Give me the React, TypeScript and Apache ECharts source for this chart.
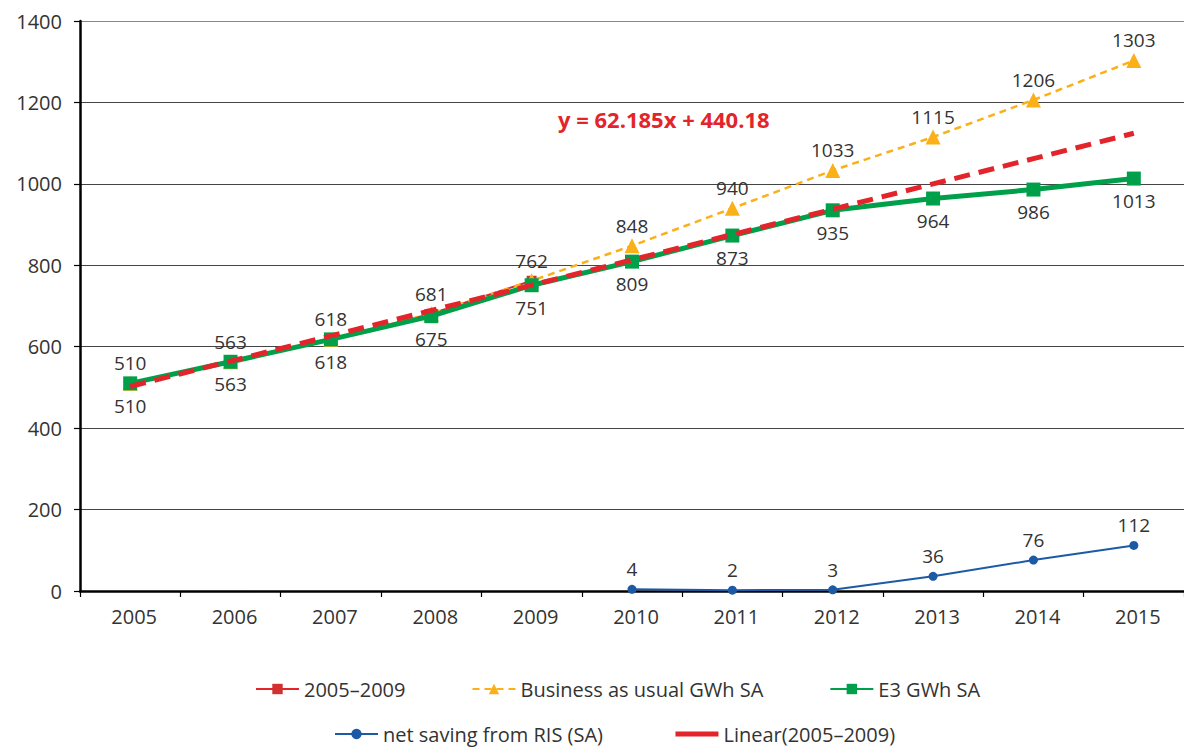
import React, { useEffect, useRef } from "react";
import * as echarts from "echarts";

const years = ["2005", "2006", "2007", "2008", "2009", "2010", "2011", "2012", "2013", "2014", "2015"];
const base0509 = [510, 563, 618, 681, 762, null, null, null, null, null, null];
const businessAsUsual = [510, 563, 618, 681, 762, 848, 940, 1033, 1115, 1206, 1303];
const e3 = [510, 563, 618, 675, 751, 809, 873, 935, 964, 986, 1013];
const netSaving = [null, null, null, null, null, 4, 2, 3, 36, 76, 112];
const linearTrend = [502.4, 564.6, 626.7, 688.9, 751.1, 813.3, 875.5, 937.7, 999.8, 1062.0, 1124.2];
const yTicks = { min: 0, max: 1400, interval: 200 };
const equationText = "y = 62.185x + 440.18";

const RED = "#E3242B";
const ORANGE = "#FBB018";
const GREEN = "#00A04B";
const BLUE = "#1C5AA6";
const TEXT = "#333333";
const FONT = "'Open Sans', sans-serif";

export default function App() {
  const ref = useRef<HTMLDivElement>(null);
  useEffect(() => {
    if (!ref.current) return;
    const chart = echarts.init(ref.current, undefined, { renderer: "svg" });
    const labelStyle = { color: TEXT, fontSize: 19, fontFamily: FONT };
    chart.setOption({
      animation: false,
      textStyle: { fontFamily: FONT },
      grid: { left: 80, right: 0, top: 21, bottom: 156, containLabel: false },
      xAxis: {
        type: "category",
        data: years,
        boundaryGap: true,
        axisLine: { lineStyle: { color: "#000", width: 2.5 } },
        axisTick: { show: true, length: 6, lineStyle: { color: "#000", width: 1.2 } },
        axisLabel: { margin: 15, fontSize: 20, color: TEXT, fontFamily: FONT, padding: [0, 0, 0, 8] },
        splitLine: { show: false },
      },
      yAxis: {
        type: "value",
        min: yTicks.min,
        max: yTicks.max,
        interval: yTicks.interval,
        axisLine: { show: true, lineStyle: { color: "#000", width: 2.5 } },
        axisTick: { show: true, length: 6, lineStyle: { color: "#000", width: 1.2 } },
        axisLabel: { margin: 18, fontSize: 20, color: TEXT, fontFamily: FONT, formatter: (v: number) => String(v) },
        splitLine: {
          show: true,
          lineStyle: { color: ["#444", "#444", "#444", "#444", "#444", "#444", "#444", "#888"], width: 1.2 },
        },
      },
      legend: [
        {
          data: ["2005–2009", "Business as usual GWh SA", "E3 GWh SA"],
          left: 255,
          top: 679,
          padding: 0,
          itemWidth: 43,
          itemHeight: 13,
          itemGap: 66,
          textStyle: { color: TEXT, fontSize: 20, fontFamily: FONT },
        },
        {
          data: [
            "net saving from RIS (SA)",
            { name: "Linear(2005–2009)", itemStyle: { opacity: 0 }, lineStyle: { type: "solid", width: 5 } },
          ],
          left: 334,
          top: 724,
          padding: 0,
          itemWidth: 43,
          itemHeight: 13,
          itemGap: 70,
          textStyle: { color: TEXT, fontSize: 20, fontFamily: FONT },
        },
      ],
      graphic: [
        {
          type: "text",
          left: 558,
          top: 108,
          style: {
            text: equationText,
            fill: RED,
            font: `bold 22px ${FONT}`,
          },
        },
      ],
      series: [
        {
          name: "2005–2009",
          type: "line",
          data: base0509,
          symbol: "rect",
          symbolSize: 10,
          itemStyle: { color: "#D2312F" },
          lineStyle: { color: RED, width: 2 },
          z: 1,
        },
        {
          name: "Business as usual GWh SA",
          type: "line",
          data: businessAsUsual,
          symbol: "triangle",
          symbolSize: 15,
          itemStyle: { color: ORANGE },
          lineStyle: { color: ORANGE, width: 2.5, type: [7, 5] },
          label: { show: true, position: "top", distance: 3, ...labelStyle },
          z: 2,
        },
        {
          name: "E3 GWh SA",
          type: "line",
          data: e3,
          symbol: "rect",
          symbolSize: 14,
          itemStyle: { color: GREEN },
          lineStyle: { color: GREEN, width: 5 },
          label: { show: true, position: "bottom", distance: 6, ...labelStyle },
          z: 3,
        },
        {
          name: "net saving from RIS (SA)",
          type: "line",
          data: netSaving,
          symbol: "circle",
          symbolSize: 9,
          itemStyle: { color: BLUE },
          lineStyle: { color: BLUE, width: 2 },
          label: { show: true, position: "top", distance: 6, ...labelStyle },
          z: 4,
        },
        {
          name: "Linear(2005–2009)",
          type: "line",
          data: linearTrend,
          symbol: "none",
          itemStyle: { color: RED },
          lineStyle: { color: RED, width: 5, type: [16, 9] },
          z: 5,
        },
      ],
    });
    return () => chart.dispose();
  }, []);
  return (
    <div
      ref={ref}
      style={{ position: "fixed", left: 0, top: 0, width: 1184, height: 747, background: "#fff" }}
    />
  );
}
